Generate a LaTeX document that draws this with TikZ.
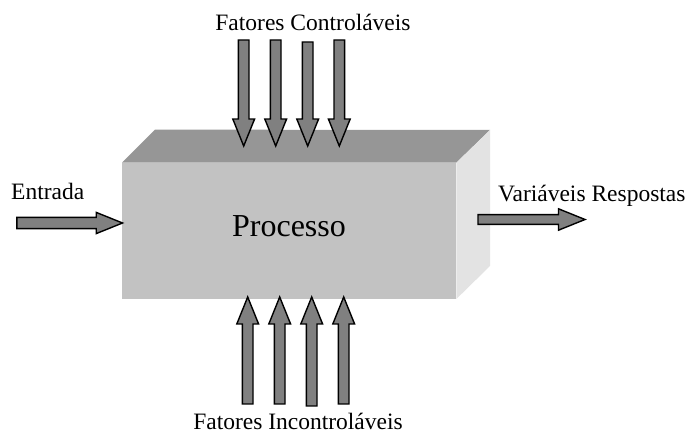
\documentclass[tikz,border=0pt]{standalone}
\usepackage{fontspec}
\setmainfont{Liberation Serif}
\usetikzlibrary{shapes.arrows}
\definecolor{topgray}{HTML}{969696}
\definecolor{frontgray}{HTML}{C2C2C2}
\definecolor{sidegray}{HTML}{E3E3E3}
\definecolor{arrowgray}{HTML}{808080}
\begin{document}
\begin{tikzpicture}[x=1pt,y=1pt,
  blockarrow/.style={single arrow, draw=black, line width=1.4pt, fill=arrowgray,
    inner xsep=0pt, inner ysep=4.6pt, outer sep=0pt, single arrow head extend=5.6pt,
    single arrow tip angle=44, minimum height=106pt, anchor=tip},
  lbl/.style={font=\fontsize{23.5}{26}\selectfont, inner sep=0pt}]
\useasboundingbox (0,0) rectangle (694,434);
% box
\node[fill=frontgray, minimum width=334pt, minimum height=136pt, inner sep=0pt, anchor=south west] (front) at (122,135) {};
\fill[topgray] (front.north west) -- ++(33,33) -- (490,304) -- (front.north east) -- cycle;
\fill[sidegray] (front.north east) -- (490,304) -- (490,168) -- (front.south east) -- cycle;
\node[font=\fontsize{32}{36}\selectfont, inner sep=0pt, anchor=base] (proc) at (289,197) {Processo};
% top arrows
\node[blockarrow, rotate=-90] (c1) at (243.7,288) {};
\node[blockarrow, rotate=-90] (c2) at (275.7,288) {};
\node[blockarrow, rotate=-90, minimum height=104pt] (c3) at (307.7,288) {};
\node[blockarrow, rotate=-90] (c4) at (339.3,288) {};
% bottom arrows
\node[blockarrow, rotate=90, minimum height=107pt] (u1) at (247.7,137) {};
\node[blockarrow, rotate=90, minimum height=107pt] (u2) at (279.7,137) {};
\node[blockarrow, rotate=90, minimum height=109pt] (u3) at (311.7,137) {};
\node[blockarrow, rotate=90, minimum height=107pt] (u4) at (343.7,137) {};
% side arrows
\node[blockarrow, inner ysep=4.9pt, single arrow head extend=5pt, minimum height=105.7pt] (inp) at (122.5,211) {};
\node[blockarrow, inner ysep=4.2pt, single arrow head extend=5.8pt, minimum height=107pt] (outp) at (585,214.5) {};
% labels
\node[lbl, anchor=base] (tc) at (313,403) {Fatores Controláveis};
\node[lbl, anchor=base] (tu) at (298,5) {Fatores Incontroláveis};
\node[lbl, anchor=base west] (te) at (11,234) {Entrada};
\node[lbl, anchor=base west] (tr) at (498,232) {Variáveis Respostas};
\end{tikzpicture}
\end{document}
